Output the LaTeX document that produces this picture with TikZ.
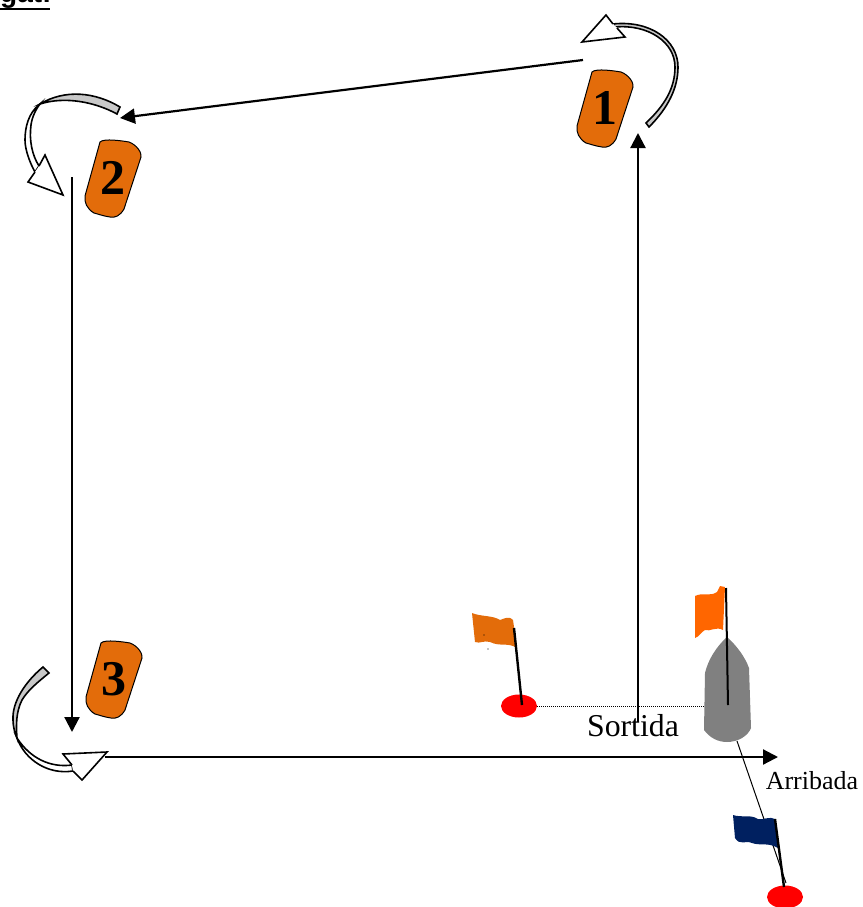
\documentclass[tikz,border=0pt]{standalone}
\usepackage{fontspec}
\setmainfont{Liberation Serif}
\newfontfamily\titlefont{Liberation Sans}
\usetikzlibrary{arrows.meta, shapes.geometric}
\definecolor{badgeorange}{HTML}{E36C0A}
\definecolor{flagorange}{HTML}{FF6600}
\definecolor{flagblue}{HTML}{002060}
\definecolor{buoyred}{HTML}{FF0000}
\definecolor{boatgray}{HTML}{808080}
\definecolor{turngray}{HTML}{C8C8C8}
\tikzset{
  course/.style={line width=2.2pt, -{Triangle[length=15pt,width=15pt]}},
  numlabel/.style={font=\bfseries\fontsize{50}{50}\selectfont, inner sep=0pt},
  turnline/.style={draw=black, line width=1.6pt, line join=miter},
  pole/.style={line width=2.4pt},
  buoy/.style={fill=buoyred, draw=none, ellipse, inner sep=0pt, minimum width=36pt, minimum height=23pt}
}
\begin{document}
\begin{tikzpicture}[x=1pt, y=-1pt]
    \useasboundingbox (0,0) rectangle (862,907);

    % Titulo cortado
    \node[font=\titlefont\bfseries\fontsize{28}{28}\selectfont, anchor=base west, inner sep=0pt] (title) at (0,3) {gat:};
    \draw[line width=2.6pt] (0,9) -- (50,9);

    % Balizas numeradas
    \foreach \n/\px/\py in {1/605/108, 2/113/178, 3/114/679}{
        \draw[fill=badgeorange, line width=1pt, shift={(\px,\py)}]
            (-13,-36) .. controls (-9,-40) and (10,-37) .. (16,-36)
            .. controls (24,-33) and (29,-25) .. (28,-21)
            -- (11,31) .. controls (7,38) and (2,40) .. (-3,39)
            .. controls (-10,38) and (-15,36) .. (-19,35)
            .. controls (-26,31) and (-29,24) .. (-28,18)
            -- cycle;
        \node[numlabel] (badge\n) at (\px,\py) {\n};
    }

    % Recorrido
    \coordinate (startN) at (638,722);
    \coordinate (endN) at (638,133);
    \coordinate (startW) at (583,60);
    \coordinate (endW) at (120,118);
    \coordinate (startS) at (72,177);
    \coordinate (endS) at (72,732);
    \coordinate (startE) at (105,757);
    \coordinate (endE) at (778,757);
    \draw[course] (startN) -- (endN);
    \draw[course] (startW) -- (endW);
    \draw[course] (startS) -- (endS);
    \draw[course] (startE) -- (endE);

    % Giro en la baliza 1
    \draw[turnline, fill=turngray] (649,127) .. controls (668,108) and (678,88) .. (678,67)
        .. controls (678,40) and (650,20) .. (613,24)
        -- (615,27) .. controls (648,24) and (675,42) .. (675,67)
        .. controls (675,88) and (665,105) .. (646,123) -- cycle;
    \draw[turnline, fill=white] (613,24) -- (606,15) -- (582,42) -- (625,37) -- (617,28);

    % Giro en la baliza 2
    \draw[turnline, fill=turngray] (120,107) .. controls (95,92) and (65,89) .. (40,104)
        .. controls (65,96) and (95,102) .. (117,114) -- cycle;
    \draw[turnline, fill=white] (40,104) .. controls (28,113) and (25,128) .. (25,140)
        .. controls (25,150) and (30,163) .. (35,172)
        -- (39,166) .. controls (32,155) and (29,140) .. (31,125)
        .. controls (32,117) and (36,109) .. (40,104) -- cycle;
    \draw[turnline, fill=white] (35,172) -- (28,182) -- (63,195) -- (45,155) -- (39,166);

    % Giro en la baliza 3
    \draw[turnline, fill=turngray] (43,667) .. controls (25,682) and (12,702) .. (13,720)
        .. controls (13,727) and (15,733) .. (17,738)
        .. controls (16,725) and (16,712) .. (22,700)
        .. controls (28,690) and (38,682) .. (49,673) -- cycle;
    \draw[turnline, fill=white] (17,738) .. controls (25,760) and (48,775) .. (73,771)
        -- (72,765) .. controls (50,768) and (30,758) .. (17,738) -- cycle;
    \draw[turnline, fill=white] (72,765) -- (63,754) -- (107,752) -- (82,780) -- (73,771);

    % Linea de salida y barco
    \coordinate (dotA) at (537,706);
    \coordinate (dotB) at (705,706);
    \draw[densely dotted, line width=1pt] (dotA) -- (dotB);
    \fill[boatgray] (727,637) .. controls (716,647) and (708,660) .. (705,673)
        -- (704,730) .. controls (710,738) and (718,742) .. (727,742)
        .. controls (738,742) and (748,736) .. (751,728)
        -- (749,668) .. controls (745,657) and (737,646) .. (727,637) -- cycle;
    \coordinate (lineA) at (737,741);
    \coordinate (lineB) at (786,883);
    \draw[line width=1pt] (lineA) -- (lineB);

    % Bandera naranja oscuro
    \fill[badgeorange] (472,613) .. controls (482,617) and (492,615) .. (500,620)
        .. controls (505,618) and (510,616) .. (513,620) -- (517,648)
        .. controls (508,642) and (500,647) .. (490,642) .. controls (484,640) and (480,644) .. (475,642) -- cycle;
    \fill (484,635) circle (0.7pt);
    \fill (488,649) circle (0.6pt);
    \node[buoy] (buoyA) at (519,706) {};
    \coordinate (poleA) at (514,628);
    \draw[pole] (poleA) -- (522,705);

    % Bandera naranja del barco
    \fill[flagorange] (695,596) .. controls (703,592) and (710,597) .. (717,592)
        -- (720,586) -- (725,587) -- (723,630)
        .. controls (716,626) and (710,632) .. (705,630) .. controls (701,632) and (699,637) .. (695,638) -- cycle;
    \coordinate (poleB) at (726,588);
    \draw[line width=2pt] (poleB) -- (728,705);

    % Bandera azul
    \fill[flagblue] (733,815) .. controls (742,818) and (750,814) .. (758,819)
        .. controls (764,820) and (770,816) .. (775,819) -- (778,848)
        .. controls (768,842) and (760,846) .. (752,843) .. controls (745,840) and (740,846) .. (735,838) -- cycle;
    \node[buoy] (buoyB) at (785,897) {};
    \coordinate (poleC) at (775,819);
    \draw[pole] (poleC) -- (784,887);

    % Etiquetas
    \node[font=\fontsize{31.8}{32}\selectfont, inner sep=0pt] (sortida) at (633,726) {Sortida};
    \node[font=\fontsize{26}{26}\selectfont, inner sep=0pt] (arribada) at (812,781) {Arribada};
\end{tikzpicture}
\end{document}
